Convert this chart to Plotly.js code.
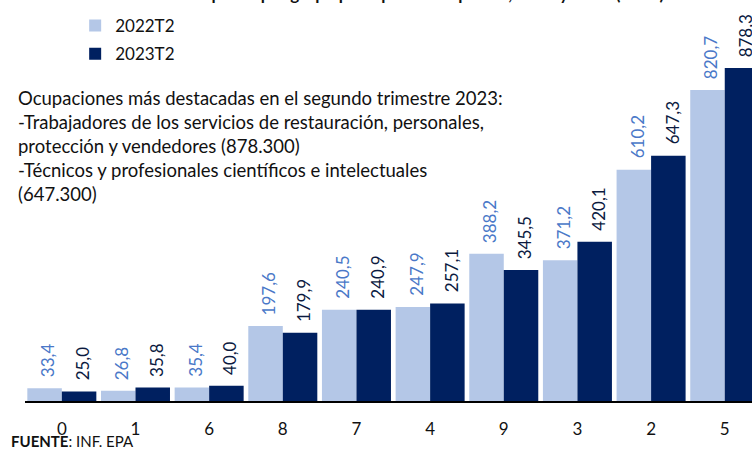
<!DOCTYPE html>
<html>
<head>
<meta charset="utf-8">
<script src="https://cdn.plot.ly/plotly-3.0.1.min.js"></script>
<style>html,body{margin:0;padding:0;background:#fff;}#chart{width:752px;height:449px;}</style>
</head>
<body>
<div id="chart"></div>
<script>
const categories = ['0','1','6','8','7','4','9','3','2','5'];
const series2022 = [33.4, 26.8, 35.4, 197.6, 240.5, 247.9, 388.2, 371.2, 610.2, 820.7];
const series2023 = [25.0, 35.8, 40.0, 179.9, 240.9, 257.1, 345.5, 420.1, 647.3, 878.3];
const seriesNames = ['2022T2', '2023T2'];
const titleText = 'Ocupados por grupo principal de ocupación, 2022 y 2023 (miles)';
const noteText = 'Ocupaciones más destacadas en el segundo trimestre 2023:<br>-Trabajadores de los servicios de restauración, personales,<br>protección y vendedores (878.300)<br>-Técnicos y profesionales científicos e intelectuales<br>(647.300)';
const sourceText = '<b>FUENTE</b>: INF. EPA';

const FONT = 'Lato, "Open Sans", sans-serif';
const LIGHT = '#B4C7E7';
const DARK = '#002060';
const fmt = v => v.toFixed(1).replace('.', ',');

const traces = [
  {type:'bar', name: seriesNames[0], x: categories, y: series2022, marker:{color: LIGHT}, hoverinfo:'none', legendgroup:'a'},
  {type:'bar', name: seriesNames[1], x: categories, y: series2023, marker:{color: DARK}, hoverinfo:'none', legendgroup:'b'}
];

const annotations = [];
categories.forEach((c, i) => {
  annotations.push({x: i, y: series2022[i], xref:'x', yref:'y', text: fmt(series2022[i]), textangle: -90,
    showarrow:false, xanchor:'center', yanchor:'bottom', xshift:-14, yshift:9,
    font:{family: FONT, size:17, color:'#4A78C8'}});
  annotations.push({x: i, y: series2023[i], xref:'x', yref:'y', text: fmt(series2023[i]), textangle: -90,
    showarrow:false, xanchor:'center', yanchor:'bottom', xshift:21, yshift:9,
    font:{family: FONT, size:17, color:'#0B1A3F'}});
});
annotations.push({xref:'paper', yref:'paper', x:0.21, y:1, xanchor:'left', yanchor:'bottom', yshift:-6,
  text:'<b>'+titleText+'</b>', showarrow:false, font:{family: FONT, size:17, color:'#111'}});
annotations.push({xref:'paper', yref:'paper', x:-0.012, y:0.636, xanchor:'left', yanchor:'middle', align:'left',
  text: noteText, showarrow:false, font:{family: FONT, size:18.5, color:'#111'}});
annotations.push({xref:'paper', yref:'paper', x:-0.022, y:-0.1, xanchor:'left', yanchor:'middle', align:'left',
  text: sourceText, showarrow:false, font:{family: FONT, size:15, color:'#111'}});

const layout = {
  width:752, height:449,
  margin:{l:25, r:0, t:0, b:48},
  paper_bgcolor:'#fff', plot_bgcolor:'#fff',
  barmode:'group', bargap:0.063, bargroupgap:0,
  showlegend:true,
  legend:{x:0.069, y:0.98, xanchor:'left', yanchor:'top', orientation:'v',
    font:{family: FONT, size:17, color:'#111'}, bgcolor:'rgba(0,0,0,0)', tracegroupgap:3},
  xaxis:{type:'category', range:[-0.5, 9.37], showline:true, linecolor:'#000', linewidth:2,
    ticks:'', ticklabelstandoff:12, tickfont:{family: FONT, size:17, color:'#111'}, showgrid:false, zeroline:false, fixedrange:true},
  yaxis:{range:[0, 1058], visible:false, showgrid:false, zeroline:false, fixedrange:true},
  annotations: annotations,
  font:{family: FONT}
};
Plotly.newPlot('chart', traces, layout, {staticPlot:true, displayModeBar:false});
</script>
</body>
</html>
